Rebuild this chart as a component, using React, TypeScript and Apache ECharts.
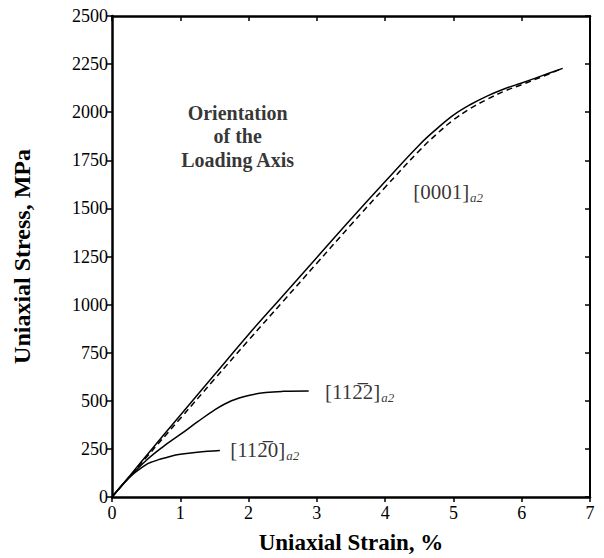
import React, { useEffect, useRef } from "react";
import * as echarts from "echarts";

// Strain (%) and stress (MPa)
const strain0001Solid = [0, 0.25, 0.5, 1, 1.5, 2, 2.5, 3, 3.5, 4, 4.5, 4.75, 5, 5.25, 5.5, 5.75, 6, 6.3, 6.6];
const stress0001Solid = [0, 106, 213, 425, 635, 845, 1045, 1245, 1445, 1640, 1830, 1912, 1985, 2040, 2085, 2122, 2152, 2190, 2228];
const strain0001Dash = [0, 0.25, 0.5, 1, 1.5, 2, 2.5, 3, 3.5, 4, 4.5, 4.75, 5, 5.25, 5.5, 5.75, 6, 6.3, 6.6];
const stress0001Dash = [0, 102, 205, 408, 612, 815, 1015, 1215, 1415, 1610, 1800, 1885, 1960, 2020, 2068, 2110, 2143, 2185, 2228];
const strain1122 = [0, 0.25, 0.5, 0.75, 1, 1.25, 1.5, 1.75, 2, 2.25, 2.5, 2.88];
const stress1122 = [0, 100, 190, 262, 325, 390, 452, 500, 528, 543, 549, 551];
const strain1120 = [0, 0.25, 0.5, 0.6, 0.7, 0.85, 1, 1.25, 1.58];
const stress1120 = [0, 100, 168, 184, 196, 211, 222, 233, 242];

const xTicks = { min: 0, max: 7, interval: 1 };
const yTicks = { min: 0, max: 2500, interval: 250 };

const labelTexts = ["{n|[0001]}{s|a2}", "{n|[112\u03052]}{s|a2}", "{n|[112\u03050]}{s|a2}"];
const labelPos = [
  [4.41, 1585],
  [3.12, 545],
  [1.73, 244],
];
const noteText = "Orientation\nof the\nLoading Axis";
const notePos = [1.84, 1876];

const FONT = "Liberation Serif";

function zip(xs: number[], ys: number[]) {
  return xs.map((x, i) => [x, ys[i]]);
}

export default function App() {
  const ref = useRef<HTMLDivElement>(null);
  useEffect(() => {
    if (!ref.current) return;
    const chart = echarts.init(ref.current, undefined, { renderer: "svg" });
    const lineBase = {
      type: "line",
      showSymbol: false,
      symbol: "none",
      smooth: 0.4,
      silent: true,
    };
    const rich = {
      n: { fontFamily: FONT, fontSize: 21, color: "#000", lineHeight: 24 },
      s: {
        fontFamily: FONT,
        fontSize: 13,
        fontStyle: "italic",
        color: "#000",
        lineHeight: 13,
        verticalAlign: "bottom",
        padding: [10, 0, 0, 1],
      },
    };
    chart.setOption({
      animation: false,
      backgroundColor: "#fff",
      grid: { left: 112, right: 14, top: 16, bottom: 61, containLabel: false, outerBoundsMode: "none" },
      xAxis: [
        {
          type: "value",
          ...xTicks,
          position: "bottom",
          name: "Uniaxial Strain, %",
          nameLocation: "middle",
          nameGap: 34,
          nameTextStyle: { fontFamily: FONT, fontSize: 23, fontWeight: "bold", color: "#000" },
          axisLine: { show: true, onZero: false, lineStyle: { color: "#000", width: 2.5 } },
          axisTick: { show: true, inside: false, length: 5, lineStyle: { color: "#000", width: 1.5 } },
          axisLabel: { fontFamily: FONT, fontSize: 18, color: "#000", margin: 7 },
          splitLine: { show: false },
        },
        {
          type: "value",
          ...xTicks,
          position: "top",
          axisLine: { show: true, onZero: false, lineStyle: { color: "#000", width: 2.5 } },
          axisTick: { show: true, inside: true, length: 5, lineStyle: { color: "#000", width: 1.5 } },
          axisLabel: { show: false },
          splitLine: { show: false },
        },
      ],
      yAxis: [
        {
          type: "value",
          ...yTicks,
          position: "left",
          name: "Uniaxial Stress, MPa",
          nameLocation: "middle",
          nameGap: 78,
          nameRotate: 90,
          nameTextStyle: { fontFamily: FONT, fontSize: 24, fontWeight: "bold", color: "#000" },
          axisLine: { show: true, onZero: false, lineStyle: { color: "#000", width: 2.5 } },
          axisTick: { show: true, inside: false, length: 5, lineStyle: { color: "#000", width: 1.5 } },
          axisLabel: {
            fontFamily: FONT,
            fontSize: 18,
            color: "#000",
            margin: 4,
            formatter: (v: number) => String(v),
          },
          splitLine: { show: false },
        },
        {
          type: "value",
          ...yTicks,
          position: "right",
          axisLine: { show: true, onZero: false, lineStyle: { color: "#000", width: 2 } },
          axisTick: { show: true, inside: true, length: 5, lineStyle: { color: "#000", width: 1.5 } },
          axisLabel: { show: false },
          splitLine: { show: false },
        },
      ],
      series: [
        { ...lineBase, data: zip(strain0001Solid, stress0001Solid), lineStyle: { color: "#000", width: 1.5 } },
        { ...lineBase, data: zip(strain0001Dash, stress0001Dash), lineStyle: { color: "#000", width: 1.5, type: [6, 4] } },
        { ...lineBase, data: zip(strain1122, stress1122), lineStyle: { color: "#000", width: 1.5 } },
        { ...lineBase, data: zip(strain1120, stress1120), lineStyle: { color: "#000", width: 1.5 } },
        {
          type: "scatter",
          symbolSize: 0,
          silent: true,
          itemStyle: { color: "#000" },
          data: labelPos.map((p, i) => ({ value: p, name: labelTexts[i] })),
          label: {
            show: true,
            position: [0, 0],
            align: "left",
            verticalAlign: "middle",
            color: "#000",
            formatter: (p: any) => p.name,
            rich,
          },
        },
        {
          type: "scatter",
          symbolSize: 0,
          silent: true,
          itemStyle: { color: "#000" },
          data: [{ value: notePos, name: noteText }],
          label: {
            show: true,
            position: [0, 0],
            align: "center",
            verticalAlign: "middle",
            formatter: (p: any) => p.name,
            fontFamily: FONT,
            fontSize: 20,
            fontWeight: "bold",
            lineHeight: 23.5,
            color: "#000",
          },
        },
      ],
    });
    return () => chart.dispose();
  }, []);
  return <div ref={ref} style={{ width: 604, height: 558, position: "absolute", left: 0, top: 0 }} />;
}
